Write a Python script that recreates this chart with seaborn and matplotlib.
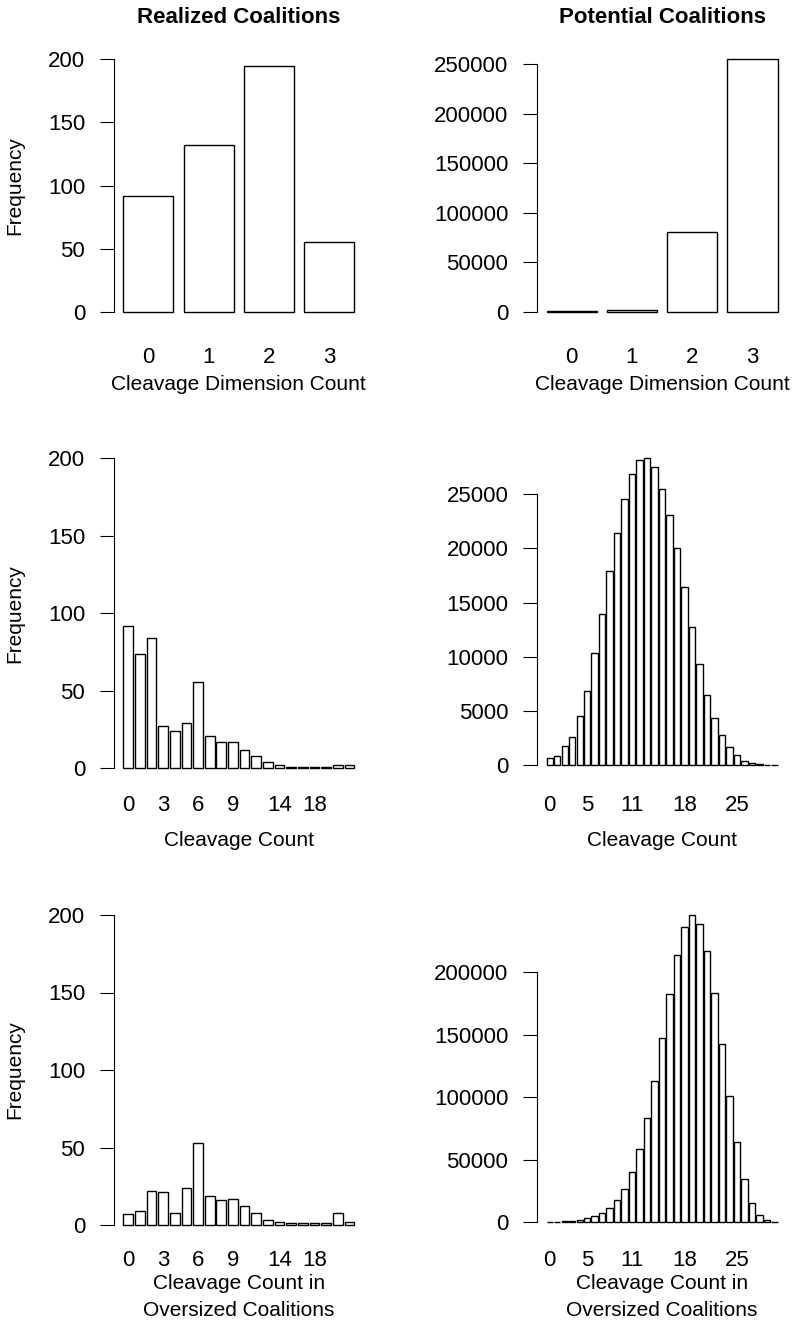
import matplotlib
matplotlib.use("Agg")
import matplotlib.pyplot as plt
import seaborn as sns

# ---------------- data ----------------
dim_categories = [0, 1, 2, 3]
dim_realized = [92, 132, 195, 55]
dim_potential = [680, 1700, 80500, 255000]

realized_categories = [0, 1, 2, 3, 4, 5, 6, 7, 8, 9, 10, 11, 12, 14, 15, 16, 18, 19, 20, 21]
count_realized = [92, 74, 84, 27, 24, 29, 56, 21, 17, 17, 12, 8, 4, 2, 1, 1, 1, 1, 2, 2]
oversized_realized = [7, 9, 22, 21, 8, 24, 53, 19, 16, 17, 12, 8, 3, 2, 1, 1, 1, 1, 8, 2]

potential_categories = list(range(0, 31))
count_potential = [650, 800, 1800, 2600, 4500, 6800, 10300, 13900, 17900, 21400,
                   24600, 26900, 28200, 28400, 27500, 25500, 23100, 20000, 16400, 12700,
                   9300, 6500, 4300, 2800, 1700, 900, 400, 200, 60, 20, 5]
oversized_potential = [100, 250, 500, 1000, 1900, 3300, 5100, 7200, 11600, 17600,
                       26800, 40400, 58600, 83000, 113000, 147000, 182600, 214000, 236000, 245500,
                       239000, 217200, 183600, 142600, 101000, 63700, 34600, 15600, 5500, 1500, 300]

dim_shown_labels = ["0", "1", "2", "3"]
realized_shown_labels = ["0", "3", "6", "9", "14", "18"]
potential_shown_labels = ["0", "5", "11", "18", "25"]

realized_yticks = [0, 50, 100, 150, 200]
dim_potential_yticks = [0, 50000, 100000, 150000, 200000, 250000]
count_potential_yticks = [0, 5000, 10000, 15000, 20000, 25000]
oversized_potential_yticks = [0, 50000, 100000, 150000, 200000]

titles = ["Realized Coalitions", "Potential Coalitions"]
xlabels = ["Cleavage Dimension Count", "Cleavage Count", "Cleavage Count in\nOversized Coalitions"]
ylabel = "Frequency"

# ---------------- style ----------------
sns.set_style("white")
plt.rcParams["font.family"] = ["Liberation Sans", "DejaVu Sans"]
plt.rcParams["text.color"] = "black"
plt.rcParams["axes.labelcolor"] = "black"
plt.rcParams["axes.titlecolor"] = "black"
TICK_FS = 16
LAB_FS = 15
TITLE_FS = 16
W, H, DPI = 806, 1337, 100
PT = 72 / DPI
fig = plt.figure(figsize=(W / DPI, H / DPI), dpi=DPI)
fig.patch.set_facecolor("white")


def add_ax(x0, x1, y0, y1):
    return fig.add_axes([x0 / W, 1 - y1 / H, (x1 - x0) / W, (y1 - y0) / H])


def panel(box, cats, vals, yrange, yticks, shown, xlabel, names_center, xlab_center,
          ylab=None, title=None):
    x0, x1, y0, y1 = box
    ax = add_ax(x0, x1, y0, y1)
    names = [str(c) for c in cats]
    sns.barplot(x=names, y=vals, order=names, color="white", edgecolor="black",
                linewidth=1.0, width=1 / 1.2, saturation=1, errorbar=None, ax=ax)
    n = len(cats)
    w = 1 / 1.2
    L = n - 1 + w
    ax.set_xlim(-w / 2 - 0.04 * L, n - 1 + w / 2 + 0.04 * L)
    ymax = yrange if yrange is not None else max(vals)
    ax.set_ylim(-0.04 * ymax, 1.04 * ymax)
    pos = [names.index(s) for s in shown]
    ax.set_xticks(pos, shown)
    ax.set_yticks(yticks, [str(t) for t in yticks])
    for s in ["top", "right", "bottom"]:
        ax.spines[s].set_visible(False)
    ax.spines["left"].set_bounds(yticks[0], yticks[-1])
    ax.spines["left"].set_linewidth(0.8)
    ax.spines["left"].set_color("black")
    ax.tick_params(axis="y", direction="out", length=10, width=0.8, pad=10.8,
                   labelsize=TICK_FS, colors="black", left=True)
    digit_half = 0.716 * TICK_FS / PT / 2
    name_pad = (names_center - digit_half - y1) * PT
    ax.tick_params(axis="x", length=0, pad=name_pad, labelsize=TICK_FS, colors="black")
    hpx = y1 - y0
    ax.set_xlabel(xlabel, fontsize=LAB_FS, linespacing=1.5, color="black")
    ax.xaxis.set_label_coords(0.5, -(xlab_center - y1) / hpx)
    ax.xaxis.label.set_verticalalignment("center")
    if ylab:
        ax.set_ylabel(ylab, fontsize=LAB_FS, color="black")
        ax.yaxis.set_label_coords(-(x0 - 15) / (x1 - x0), 0.5)
        ax.yaxis.label.set_verticalalignment("center")
    else:
        ax.set_ylabel("")
    if title:
        ax.set_title(title, fontsize=TITLE_FS, fontweight="bold", pad=26 * PT, color="black")
    return ax


LX = (114, 363.6)
RX = (537.3, 786.8)

panel((*LX, 49.1, 322.1), dim_categories, dim_realized, 200, realized_yticks,
      dim_shown_labels, xlabels[0], 355, 385, ylab=ylabel, title=titles[0])
panel((*RX, 49.1, 322.1), dim_categories, dim_potential, None, dim_potential_yticks,
      dim_shown_labels, xlabels[0], 355, 385, title=titles[1])
panel((*LX, 445.9, 780.7), realized_categories, count_realized, 200, realized_yticks,
      realized_shown_labels, xlabels[1], 803, 840, ylab=ylabel)
panel((*RX, 445.2, 777.3), potential_categories, count_potential, None, count_potential_yticks,
      potential_shown_labels, xlabels[1], 803, 840)
panel((*LX, 902.6, 1237.4), realized_categories, oversized_realized, 200, realized_yticks,
      realized_shown_labels, xlabels[2], 1258, 1297, ylab=ylabel)
panel((*RX, 903.2, 1234.3), potential_categories, oversized_potential, None, oversized_potential_yticks,
      potential_shown_labels, xlabels[2], 1258, 1297)

fig.savefig("out.png", dpi=DPI, facecolor="white")
